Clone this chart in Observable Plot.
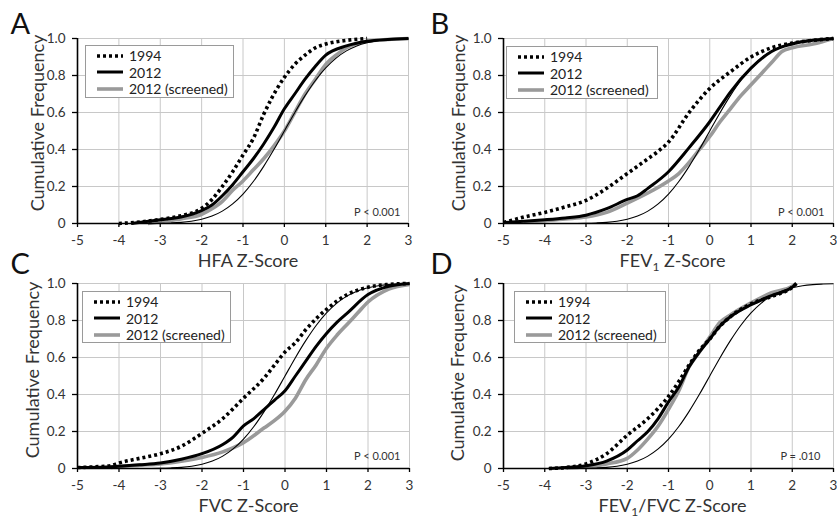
<!DOCTYPE html>
<html><head><meta charset="utf-8">
<script src="https://cdn.jsdelivr.net/npm/d3@7"></script>
<script src="https://cdn.jsdelivr.net/npm/@observablehq/plot@0.6"></script>
<style>
body{margin:0;background:#fff;font-family:Lato,sans-serif;}
#chart{position:relative;width:837px;height:519px;overflow:hidden;background:#fff;}
.panel{position:absolute;}
.legend{position:absolute;border:1px solid #9a9a9a;background:#fff;box-sizing:border-box;}
.legend .row{position:absolute;left:10px;height:16px;display:flex;align-items:center;font-size:14px;color:#222;white-space:nowrap;}
.legend .row svg{margin-right:5px;}
</style></head>
<body><div id="chart"></div>
<script>
// ---- data ----
const xTicks = [-5, -4, -3, -2, -1, 0, 1, 2, 3];
const yTicks = [0, 0.2, 0.4, 0.6, 0.8, 1.0];
const seriesNames = ["1994", "2012", "2012 (screened)"];
const panelLetters = ["A", "B", "C", "D"];
const xLabels = ["HFA Z-Score", "FEV1 Z-Score", "FVC Z-Score", "FEV1/FVC Z-Score"];
const pValues = ["P < 0.001", "P < 0.001", "P < 0.001", "P = .010"];

// thin reference curve (expected distribution)
const reference = [[-4,0],[-3.5,0.0002],[-3,0.0013],[-2.75,0.003],[-2.5,0.006],[-2.25,0.012],[-2,0.023],[-1.75,0.04],[-1.5,0.067],[-1.25,0.106],[-1,0.159],[-0.75,0.227],[-0.5,0.309],[-0.25,0.401],[0,0.5],[0.25,0.599],[0.5,0.691],[0.75,0.773],[1,0.841],[1.25,0.894],[1.5,0.933],[1.75,0.96],[2,0.977],[2.25,0.988],[2.5,0.994],[2.75,0.997],[3,0.999]];

// A: HFA
const hfa1994 = [[-4,0],[-3.5,0.008],[-3,0.022],[-2.5,0.042],[-2,0.082],[-1.75,0.13],[-1.5,0.2],[-1.25,0.28],[-1,0.37],[-0.75,0.46],[-0.5,0.59],[-0.3,0.68],[-0.2,0.72],[0,0.79],[0.25,0.86],[0.5,0.91],[0.75,0.95],[1,0.97],[1.5,0.99],[2,1]];
const hfa2012 = [[-3.7,0],[-3,0.02],[-2.5,0.035],[-2,0.07],[-1.75,0.1],[-1.5,0.15],[-1.25,0.21],[-1,0.28],[-0.75,0.35],[-0.5,0.43],[-0.25,0.52],[0,0.62],[0.25,0.7],[0.5,0.78],[0.75,0.85],[1,0.91],[1.5,0.96],[2,0.985],[2.5,0.995],[3,1]];
const hfaScreened = [[-3.3,0],[-3,0.01],[-2.5,0.025],[-2,0.05],[-1.75,0.08],[-1.5,0.12],[-1.25,0.18],[-1,0.23],[-0.75,0.29],[-0.5,0.35],[-0.25,0.42],[0,0.5],[0.25,0.6],[0.5,0.7],[0.75,0.78],[1,0.86],[1.25,0.91],[1.5,0.95],[2,0.985],[2.5,0.995],[3,1]];

// B: FEV1
const fev1994 = [[-5,0.005],[-4.5,0.035],[-4,0.06],[-3.5,0.09],[-3,0.125],[-2.5,0.19],[-2,0.27],[-1.5,0.35],[-1.25,0.39],[-1,0.44],[-0.5,0.6],[0,0.73],[0.5,0.82],[1,0.9],[1.5,0.95],[2,0.975],[2.5,0.99],[3,1]];
const fev2012 = [[-5,0.005],[-4.5,0.012],[-4,0.02],[-3.5,0.03],[-3,0.045],[-2.5,0.08],[-2,0.13],[-1.75,0.15],[-1.5,0.19],[-1,0.28],[-0.5,0.41],[0,0.55],[0.25,0.63],[0.5,0.71],[1,0.84],[1.5,0.93],[2,0.97],[2.5,0.99],[3,1]];
const fevScreened = [[-4.5,0.008],[-4,0.015],[-3.5,0.025],[-3,0.035],[-2.5,0.06],[-2,0.11],[-1.5,0.165],[-1,0.23],[-0.75,0.27],[-0.5,0.33],[-0.25,0.4],[0,0.47],[0.25,0.55],[0.5,0.62],[0.75,0.69],[1,0.75],[1.25,0.81],[1.5,0.87],[1.75,0.93],[2,0.95],[2.5,0.97],[3,1]];

// C: FVC
const fvc1994 = [[-5,0.005],[-4.5,0.01],[-4.2,0.015],[-4,0.03],[-3.5,0.055],[-3,0.08],[-2.5,0.12],[-2,0.19],[-1.5,0.27],[-1,0.38],[-0.5,0.49],[-0.25,0.56],[0,0.63],[0.25,0.68],[0.5,0.75],[0.75,0.81],[1,0.86],[1.5,0.94],[2,0.98],[2.5,0.995],[3,1]];
const fvc2012 = [[-5,0.005],[-4.3,0.008],[-4,0.012],[-3.5,0.02],[-3,0.03],[-2.5,0.05],[-2,0.08],[-1.5,0.13],[-1.25,0.17],[-1,0.23],[-0.75,0.27],[-0.5,0.32],[-0.25,0.37],[0,0.42],[0.25,0.5],[0.5,0.58],[0.75,0.66],[1,0.73],[1.25,0.79],[1.5,0.84],[2,0.94],[2.5,0.985],[3,1]];
const fvcScreened = [[-4.2,0.005],[-4,0.01],[-3.5,0.018],[-3,0.025],[-2.5,0.04],[-2,0.06],[-1.5,0.09],[-1,0.14],[-0.5,0.22],[-0.25,0.26],[0,0.31],[0.25,0.38],[0.5,0.48],[0.75,0.56],[1,0.65],[1.25,0.72],[1.5,0.78],[1.75,0.84],[2,0.9],[2.5,0.97],[3,0.995]];

// D: FEV1/FVC
const ratio1994 = [[-3.9,0],[-3.5,0.005],[-3,0.025],[-2.5,0.08],[-2,0.18],[-1.5,0.27],[-1,0.39],[-0.75,0.47],[-0.5,0.56],[-0.25,0.64],[0,0.7],[0.25,0.77],[0.5,0.82],[0.75,0.86],[1,0.89],[1.5,0.93],[2,0.98],[2.1,1]];
const ratio2012 = [[-3.9,0],[-3.5,0.005],[-3,0.015],[-2.5,0.04],[-2,0.1],[-1.75,0.15],[-1.5,0.2],[-1.25,0.27],[-1,0.36],[-0.75,0.44],[-0.5,0.55],[-0.25,0.63],[0,0.7],[0.25,0.77],[0.5,0.82],[1,0.885],[1.5,0.935],[2,0.98],[2.1,1]];
const ratioScreened = [[-3.5,0.003],[-3,0.01],[-2.5,0.025],[-2,0.055],[-1.75,0.1],[-1.5,0.16],[-1.25,0.23],[-1,0.32],[-0.75,0.42],[-0.5,0.55],[-0.25,0.63],[0,0.71],[0.25,0.79],[0.5,0.83],[1,0.895],[1.5,0.95],[2,0.985],[2.1,1]];

const panelSeries = [
  [hfa1994, hfa2012, hfaScreened],
  [fev1994, fev2012, fevScreened],
  [fvc1994, fvc2012, fvcScreened],
  [ratio1994, ratio2012, ratioScreened]
];

// ---- layout & style ----
const seriesStyle = [
  {stroke: "#000", strokeWidth: 3.6, strokeDasharray: "3 3"},
  {stroke: "#000", strokeWidth: 3, strokeDasharray: null},
  {stroke: "#9a9a9a", strokeWidth: 3.6, strokeDasharray: null}
];
const layout = [
  {left: 0,   top: 0,   width: 418, height: 259, ml: 77, mr: 10, mt: 38, mb: 36, letter: [-67, -5], ylab: [-39, -8], xlabDx: 5, p: [-8, -8], legend: {left: 85, top: 45, w: 149, h: 53}},
  {left: 417, top: 0,   width: 420, height: 259, ml: 86, mr: 4,  mt: 38, mb: 36, letter: [-73, -5], ylab: [-44, -8], xlabDx: 4,  p: [-9, -8], legend: {left: 506, top: 46, w: 152, h: 53}},
  {left: 0,   top: 259, width: 418, height: 260, ml: 77, mr: 9,  mt: 24, mb: 51, letter: [-67, -10], ylab: [-44, -6], xlabDx: 5, p: [-9, -9], legend: {left: 82, top: 291, w: 149, h: 52}},
  {left: 417, top: 259, width: 420, height: 260, ml: 86, mr: 4,  mt: 24, mb: 51, letter: [-73, -10], ylab: [-45, -3], xlabDx: 4, p: [-13, -9], legend: {left: 514, top: 291, w: 152, h: 52}}
];

const chart = document.getElementById("chart");
const fmtY = d => d === 0 ? "0" : d.toFixed(1);
const px = d => d[0], py = d => d[1];

function subscriptFEV(svg) {
  const NS = "http://www.w3.org/2000/svg";
  svg.querySelectorAll("text").forEach(t => {
    const s = t.textContent;
    if (!s.includes("FEV1")) return;
    const parts = s.split("FEV1");
    t.textContent = "";
    parts.forEach((part, i) => {
      if (i > 0) {
        const a = document.createElementNS(NS, "tspan"); a.textContent = "FEV"; t.appendChild(a);
        const b = document.createElementNS(NS, "tspan"); b.textContent = "1";
        b.setAttribute("font-size", "12"); b.setAttribute("dy", "4"); t.appendChild(b);
        const c = document.createElementNS(NS, "tspan"); c.textContent = part;
        c.setAttribute("dy", "-4"); t.appendChild(c);
      } else if (part) {
        const c = document.createElementNS(NS, "tspan"); c.textContent = part; t.appendChild(c);
      }
    });
  });
}

layout.forEach((L, i) => {
  const series = panelSeries[i];
  const lineOpts = {x: px, y: py, curve: "monotone-x", strokeLinecap: "butt", strokeLinejoin: "round"};
  const marks = [
    Plot.gridX({ticks: xTicks, stroke: "#c8c8c8", strokeOpacity: 1, strokeWidth: 1}),
    Plot.gridY({ticks: yTicks, stroke: "#c8c8c8", strokeOpacity: 1, strokeWidth: 1}),
    Plot.line(series[2], {...lineOpts, ...seriesStyle[2]}),
    Plot.line(series[1], {...lineOpts, ...seriesStyle[1]}),
    Plot.line(series[0], {...lineOpts, ...seriesStyle[0]}),
    Plot.line(reference, {...lineOpts, stroke: "#000", strokeWidth: 1.1}),
    Plot.ruleY([0], {stroke: "#000", strokeWidth: 1.6}),
    Plot.ruleX([-5], {stroke: "#000", strokeWidth: 1.6}),
    Plot.axisX({ticks: xTicks, tickSize: 4, tickPadding: 8, stroke: "#000", strokeWidth: 1.3, fill: "#333", fontSize: 13.5, tickFormat: d => String(d), label: null}),
    Plot.axisY({ticks: yTicks, tickSize: 5, tickPadding: 7, stroke: "#000", strokeWidth: 1.3, fill: "#333", fontSize: 13.5, tickFormat: fmtY, label: null}),
    Plot.text([panelLetters[i]], {frameAnchor: "top-left", textAnchor: "start", lineAnchor: "bottom", dx: L.letter[0], dy: L.letter[1], fontSize: 29, fill: "#111"}),
    Plot.text(["Cumulative Frequency"], {frameAnchor: "left", textAnchor: "middle", lineAnchor: "middle", rotate: -90, dx: L.ylab[0], dy: L.ylab[1], fontSize: 18, fill: "#333"}),
    Plot.text([xLabels[i]], {frameAnchor: "bottom", textAnchor: "middle", lineAnchor: "bottom", dx: L.xlabDx, dy: 43, fontSize: 18, fill: "#333"}),
    Plot.text([pValues[i]], {frameAnchor: "bottom-right", textAnchor: "end", lineAnchor: "bottom", dx: L.p[0], dy: L.p[1], fontSize: 11, fill: "#333"})
  ];
  const svg = Plot.plot({
    width: L.width, height: L.height,
    marginLeft: L.ml, marginRight: L.mr, marginTop: L.mt, marginBottom: L.mb,
    x: {domain: [-5, 3], label: null},
    y: {domain: [0, 1], label: null},
    style: {fontFamily: "Lato, sans-serif", background: "transparent", overflow: "visible", color: "#333"},
    marks
  });
  subscriptFEV(svg);
  const wrap = document.createElement("div");
  wrap.className = "panel";
  wrap.style.left = L.left + "px";
  wrap.style.top = L.top + "px";
  wrap.style.width = L.width + "px";
  wrap.appendChild(svg);
  chart.appendChild(wrap);

  // legend box
  const g = L.legend;
  const box = document.createElement("div");
  box.className = "legend";
  Object.assign(box.style, {left: g.left + "px", top: g.top + "px", width: g.w + "px", height: g.h + "px"});
  const rowCenters = [9.5, 26, 42.5];
  seriesNames.forEach((name, k) => {
    const s = seriesStyle[k];
    const row = document.createElement("div");
    row.className = "row";
    row.style.top = (rowCenters[k] - 8) + "px";
    row.innerHTML = `<svg width="28" height="8"><line x1="1" y1="4" x2="27" y2="4" stroke="${s.stroke}" stroke-width="${s.strokeWidth}" ${s.strokeDasharray ? `stroke-dasharray="${s.strokeDasharray}"` : ""}/></svg><span>${name}</span>`;
    box.appendChild(row);
  });
  chart.appendChild(box);
});
</script>
</body></html>
